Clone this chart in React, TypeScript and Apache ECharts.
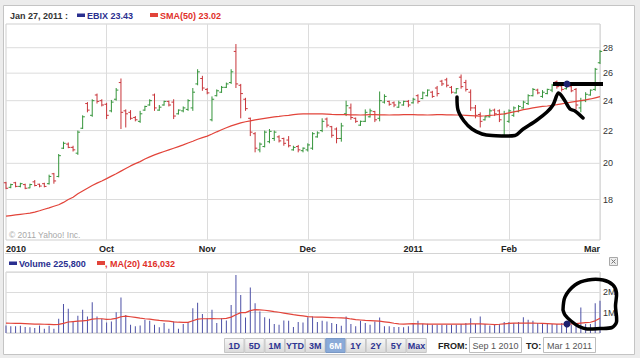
import React, { useEffect, useRef } from "react";
import * as echarts from "echarts";

// ---------- data ----------
const HOLIDAYS = ["2010-09-06", "2010-11-25", "2010-12-24", "2011-01-17", "2011-02-21"];
const FIRST_DAY = "2010-09-01";
const LAST_DAY = "2011-03-01";
const X_TICK_LABELS = ["2010", "Oct", "Nov", "Dec", "2011", "Feb", "Mar"];
const PRICE_TICKS = [18, 20, 22, 24, 26, 28];
const VOLUME_TICK_LABELS: Record<number, string> = { 1000000: "1M", 2000000: "2M" };

const OPEN = [
  18.9, 18.65, 18.9, 18.7, 18.8, 18.62, 18.95, 18.82, 18.85, 18.85, 19.4, 19.25, 20.9, 21.15, 20.95, 20.6, 22.15, 23.8, 23.0, 24.4,
  24.0, 23.75, 23.3, 24.1, 25.3, 23.3, 23.2, 22.85, 22.6, 23.35, 23.7, 24.4, 23.35, 23.7, 23.95, 23.9, 23.1, 23.3, 23.4, 23.5,
  25.2, 25.6, 24.8, 22.7, 24.35, 24.6, 24.95, 25.3, 27.7, 25.1, 24.1, 22.8, 21.8, 20.8, 21.0, 21.3, 21.5, 21.6, 21.5, 21.4,
  20.8, 21.0, 20.75, 20.8, 20.9, 21.6, 22.0, 22.75, 22.25, 22.1, 21.5, 23.1, 23.5, 22.8, 22.35, 22.6, 22.9, 23.25, 22.8, 23.9,
  23.95, 23.85, 23.55, 23.7, 23.95, 23.85, 24.35, 24.15, 24.35, 24.6, 24.9, 25.4, 25.5, 24.95, 24.55, 25.7, 25.3, 24.6, 23.5, 23.05,
  22.7, 22.9, 23.35, 23.3, 21.7, 22.6, 23.0, 23.25, 23.5, 23.8, 24.35, 24.75, 24.3, 24.5, 24.75, 25.35, 25.05, 24.85, 25.0, 24.8,
  23.5, 24.0, 24.4, 24.8, 26.8,
];
const HIGH = [
  18.95, 18.85, 18.95, 18.9, 18.85, 18.85, 19.05, 18.85, 18.9, 19.35, 19.45, 20.55, 21.3, 21.25, 21.05, 22.0, 23.0, 23.9, 24.1, 24.5,
  24.1, 23.85, 24.05, 24.9, 25.6, 23.4, 23.35, 22.95, 23.3, 23.65, 24.1, 24.5, 23.7, 24.0, 24.0, 24.1, 23.4, 23.6, 24.1, 24.9,
  26.3, 25.8, 24.9, 24.3, 24.8, 25.05, 25.3, 26.3, 28.3, 25.2, 24.2, 22.85, 21.9, 21.25, 22.0, 22.1, 22.0, 21.7, 21.55, 21.65,
  21.05, 21.1, 20.95, 21.2, 21.9, 21.95, 22.8, 22.85, 22.3, 22.2, 22.5, 24.0, 23.8, 22.85, 22.65, 23.4, 23.45, 23.3, 24.65, 24.45,
  24.0, 23.95, 24.0, 24.0, 24.05, 24.2, 24.45, 24.65, 24.8, 24.7, 25.05, 25.5, 25.65, 25.05, 24.9, 25.9, 25.5, 24.8, 23.7, 23.2,
  22.95, 23.45, 23.45, 23.4, 23.3, 23.4, 23.6, 23.7, 24.0, 24.45, 24.9, 24.85, 24.75, 24.85, 25.2, 25.45, 25.15, 25.3, 25.1, 24.9,
  24.2, 24.6, 24.8, 26.4, 27.8,
];
const LOW = [
  18.55, 18.6, 18.65, 18.65, 18.55, 18.6, 18.7, 18.65, 18.65, 18.8, 18.85, 19.2, 20.85, 20.9, 20.7, 20.5, 22.1, 23.2, 22.9, 23.8,
  23.6, 22.75, 23.2, 24.0, 22.1, 22.2, 22.7, 22.6, 22.5, 23.3, 23.65, 23.3, 23.3, 23.65, 23.6, 22.75, 23.05, 23.2, 23.3, 23.3,
  25.1, 24.7, 24.45, 22.6, 24.3, 24.55, 24.9, 25.2, 24.9, 22.8, 23.3, 21.65, 20.65, 20.65, 20.95, 21.2, 21.35, 21.25, 21.05, 20.95,
  20.75, 20.65, 20.65, 20.7, 20.8, 21.55, 21.9, 22.2, 21.55, 21.2, 21.3, 22.95, 22.7, 22.5, 22.3, 22.55, 22.85, 22.55, 22.6, 23.8,
  23.65, 23.55, 23.5, 23.65, 23.55, 23.8, 23.8, 24.1, 24.3, 24.2, 24.3, 25.05, 24.95, 24.5, 24.5, 24.85, 24.65, 23.3, 22.8, 22.2,
  22.65, 22.85, 22.95, 22.55, 21.6, 22.5, 22.9, 23.2, 23.45, 23.7, 24.3, 24.45, 24.2, 24.45, 24.6, 24.85, 24.65, 24.8, 24.6, 23.4,
  23.2, 23.9, 24.35, 24.7, 26.7,
];
const CLOSE = [
  18.6, 18.8, 18.7, 18.85, 18.6, 18.8, 18.75, 18.72, 18.7, 19.25, 19.0, 20.45, 21.2, 20.95, 20.8, 21.9, 22.9, 23.35, 24.0, 23.95,
  23.7, 23.0, 23.9, 24.75, 23.2, 23.1, 22.8, 22.7, 23.1, 23.6, 24.0, 23.5, 23.55, 23.95, 23.7, 22.95, 23.35, 23.5, 24.0, 24.6,
  26.1, 24.9, 24.55, 24.1, 24.7, 24.95, 25.2, 26.1, 25.2, 24.5, 23.45, 21.9, 20.9, 21.15, 21.9, 21.95, 21.9, 21.35, 21.2, 21.05,
  20.95, 20.8, 20.9, 21.1, 21.8, 21.85, 22.6, 22.35, 21.7, 21.5, 22.3, 23.65, 22.85, 22.6, 22.6, 23.2, 23.3, 22.7, 24.0, 24.3,
  23.75, 23.7, 23.85, 23.95, 23.7, 24.1, 23.95, 24.55, 24.75, 24.3, 24.5, 25.2, 25.1, 24.6, 24.85, 25.0, 24.8, 23.5, 23.0, 22.6,
  22.9, 23.3, 23.1, 22.7, 23.1, 23.3, 23.5, 23.6, 23.9, 24.35, 24.8, 24.55, 24.6, 24.8, 25.1, 25.0, 24.8, 25.2, 24.7, 23.7,
  24.0, 24.45, 24.75, 26.3, 27.7,
];
const SMA50 = [
  17.15, 17.18, 17.21, 17.24, 17.27, 17.3, 17.35, 17.42, 17.5, 17.57, 17.65, 17.73, 17.85, 18.0, 18.12, 18.3, 18.45, 18.6, 18.75, 18.88,
  19.0, 19.13, 19.27, 19.4, 19.55, 19.7, 19.85, 19.98, 20.1, 20.25, 20.38, 20.5, 20.6, 20.7, 20.8, 20.9, 21.0, 21.1, 21.22, 21.33,
  21.45, 21.55, 21.65, 21.78, 21.92, 22.05, 22.18, 22.3, 22.4, 22.5, 22.57, 22.63, 22.7, 22.75, 22.8, 22.85, 22.9, 22.93, 22.97, 23.0,
  23.05, 23.08, 23.1, 23.1, 23.1, 23.1, 23.1, 23.08, 23.06, 23.05, 23.04, 23.04, 23.03, 23.03, 23.02, 23.03, 23.04, 23.04, 23.03, 23.03,
  23.02, 23.03, 23.03, 23.04, 23.04, 23.04, 23.03, 23.03, 23.02, 23.03, 23.04, 23.04, 23.03, 23.03, 23.02, 23.02, 23.0, 22.98, 22.96, 22.95,
  22.97, 23.0, 23.02, 23.06, 23.1, 23.16, 23.23, 23.3, 23.38, 23.44, 23.5, 23.55, 23.6, 23.63, 23.67, 23.72, 23.78, 23.84, 23.9, 23.95,
  24.0, 24.05, 24.12, 24.2, 24.28,
];
const VOLUME = [
  370000, 330000, 330000, 360000, 290000, 280000, 240000, 370000, 210000, 360000, 210000, 700000, 1430000, 1190000, 540000, 850000, 1140000, 810000, 1510000, 810000,
  700000, 520000, 570000, 1020000, 1740000, 890000, 410000, 330000, 370000, 650000, 600000, 410000, 280000, 490000, 210000, 570000, 210000, 440000, 540000, 1220000,
  1490000, 940000, 730000, 1140000, 490000, 730000, 620000, 1380000, 2850000, 1870000, 760000, 2240000, 1460000, 1060000, 780000, 700000, 440000, 410000, 620000, 600000,
  290000, 540000, 520000, 780000, 810000, 540000, 600000, 570000, 490000, 440000, 360000, 810000, 440000, 330000, 600000, 490000, 410000, 570000, 760000, 330000,
  330000, 290000, 290000, 280000, 330000, 490000, 600000, 460000, 460000, 410000, 410000, 410000, 410000, 410000, 410000, 440000, 490000, 730000, 440000, 810000,
  440000, 370000, 410000, 440000, 540000, 540000, 490000, 540000, 780000, 650000, 600000, 490000, 440000, 440000, 440000, 440000, 490000, 570000, 410000, 440000,
  1250000, 440000, 440000, 1460000, 1580000,
];
const VOLUME_MA20 = [
  490000, 480000, 470000, 470000, 460000, 450000, 440000, 440000, 430000, 420000, 410000, 420000, 470000, 540000, 560000, 580000, 600000, 620000, 680000, 700000,
  700000, 670000, 680000, 720000, 800000, 830000, 800000, 770000, 730000, 700000, 680000, 650000, 620000, 600000, 580000, 550000, 530000, 520000, 520000, 600000,
  680000, 700000, 700000, 710000, 700000, 700000, 720000, 780000, 900000, 1000000, 1000000, 1100000, 1150000, 1140000, 1120000, 1090000, 1050000, 1020000, 980000, 940000,
  900000, 870000, 840000, 810000, 790000, 780000, 780000, 770000, 760000, 750000, 740000, 730000, 690000, 660000, 640000, 620000, 610000, 600000, 580000, 550000,
  520000, 480000, 450000, 440000, 450000, 460000, 450000, 450000, 440000, 440000, 440000, 440000, 440000, 440000, 440000, 440000, 440000, 450000, 450000, 450000,
  440000, 430000, 416032, 430000, 450000, 470000, 490000, 490000, 490000, 490000, 490000, 480000, 470000, 460000, 450000, 440000, 440000, 440000, 450000, 460000,
  490000, 510000, 530000, 600000, 730000,
];
const BUTTONS = ["1D", "5D", "1M", "YTD", "3M", "6M", "1Y", "2Y", "5Y", "Max"];
const SELECTED_BUTTON = "6M";

// ---------- helpers ----------
function tradingDays(start: string, end: string): string[] {
  const out: string[] = [];
  const d = new Date(start + "T00:00:00Z");
  const e = new Date(end + "T00:00:00Z");
  while (d.getTime() <= e.getTime()) {
    const wd = d.getUTCDay();
    const s = d.toISOString().slice(0, 10);
    if (wd !== 0 && wd !== 6 && HOLIDAYS.indexOf(s) < 0) out.push(s);
    d.setUTCDate(d.getUTCDate() + 1);
  }
  return out;
}

const FONT = '"Liberation Sans", Arial, sans-serif';
const GREEN = "#34943a";
const RED = "#c8353a";
const NAVY = "#2a2f8f";
const VOL_COLOR = "#4c50a6";
const MA_RED = "#e2443a";
const GRID_LINE = "#dcdcdc";

function txt(x: number, y: number, text: string, fill: string, font: string, align = "left", z = 50) {
  return {
    type: "text",
    x,
    y,
    z,
    silent: true,
    style: { text, fill, font, textAlign: align, align, textVerticalAlign: "middle", verticalAlign: "middle" },
  };
}

export default function App() {
  const ref = useRef<HTMLDivElement>(null);

  useEffect(() => {
    if (!ref.current) return;
    const chart = echarts.init(ref.current, null, { renderer: "svg" });

    const DATES = tradingDays(FIRST_DAY, LAST_DAY);
    const monthStarts: number[] = [];
    DATES.forEach((d, i) => {
      if (i > 0 && d.slice(5, 7) !== DATES[i - 1].slice(5, 7)) monthStarts.push(i);
    });
    const labelIdx = [0, ...monthStarts];
    const labelMap: Record<number, string> = {};
    labelIdx.forEach((idx, k) => (labelMap[idx] = X_TICK_LABELS[k]));

    const ohlc = DATES.map((_, i) => [i, OPEN[i], HIGH[i], LOW[i], CLOSE[i]]);

    const gridInterval = (index: number) => monthStarts.indexOf(index) >= 0;

    const buttonEls: any[] = [];
    BUTTONS.forEach((b, k) => {
      const x = 224 + k * 20.25;
      const sel = b === SELECTED_BUTTON;
      buttonEls.push({
        type: "rect",
        z: 40,
        silent: true,
        shape: { x: x + 0.5, y: 338.5, width: 19.5, height: 14 },
        style: sel
          ? { fill: "#8aaad8", stroke: "#7a98c4", lineWidth: 1 }
          : {
              fill: new echarts.graphic.LinearGradient(0, 0, 0, 1, [
                { offset: 0, color: "#f7f7f7" },
                { offset: 1, color: "#dadada" },
              ]),
              stroke: "#c6c6c6",
              lineWidth: 1,
            },
      });
      buttonEls.push(txt(x + 10.25, 346, b, sel ? "#ffffff" : "#2e3592", "bold 9px " + FONT, "center", 41));
    });

    const annotation = (points: number[][], smooth = 0.35) => ({
      type: "polyline",
      z: 100,
      silent: true,
      shape: { points, smooth },
      style: { stroke: "#000", lineWidth: 3.5, fill: null, lineCap: "round", lineJoin: "round" },
    });

    const graphic: any[] = [
      { type: "rect", z: -100, silent: true, shape: { x: 0, y: 0, width: 640, height: 358 }, style: { fill: "#ececec" } },
      { type: "rect", z: -99, silent: true, shape: { x: 3.5, y: 5.5, width: 631, height: 349 }, style: { fill: "#ffffff", stroke: "#c4c4c4", lineWidth: 1 } },
      { type: "line", z: 1, silent: true, shape: { x1: 5, y1: 253.5, x2: 600, y2: 253.5 }, style: { stroke: "#d4d4d4", lineWidth: 1 } },
      // price legend
      txt(10, 15.5, "Jan 27, 2011 :", "#333333", "bold 9px " + FONT),
      { type: "rect", z: 50, silent: true, shape: { x: 77, y: 13.5, width: 8, height: 3.5 }, style: { fill: NAVY } },
      txt(87, 15.5, "EBIX 23.43", NAVY, "bold 9px " + FONT),
      { type: "rect", z: 50, silent: true, shape: { x: 150, y: 13, width: 8, height: 4 }, style: { fill: MA_RED } },
      txt(160, 15.5, "SMA(50) 23.02", "#e0302a", "bold 9px " + FONT),
      txt(9, 235, "\u00a9 2011 Yahoo! Inc.", "#a8a8a8", "8.5px " + FONT),
      // volume legend
      { type: "rect", z: 50, silent: true, shape: { x: 9, y: 261.5, width: 8, height: 3.5 }, style: { fill: NAVY } },
      txt(19, 263.5, "Volume 225,800", NAVY, "bold 9px " + FONT),
      { type: "rect", z: 50, silent: true, shape: { x: 97, y: 261, width: 8, height: 4 }, style: { fill: MA_RED } },
      txt(105, 263.5, ", MA(20) 416,032", "#e0302a", "bold 9px " + FONT),
      // close icon
      { type: "rect", z: 50, silent: true, shape: { x: 609.5, y: 257.5, width: 8, height: 8 }, style: { fill: "#eeeeee", stroke: "#a8a8a8", lineWidth: 1 } },
      { type: "line", z: 51, silent: true, shape: { x1: 611.5, y1: 259.5, x2: 615.5, y2: 263.5 }, style: { stroke: "#777", lineWidth: 1 } },
      { type: "line", z: 51, silent: true, shape: { x1: 615.5, y1: 259.5, x2: 611.5, y2: 263.5 }, style: { stroke: "#777", lineWidth: 1 } },
      ...buttonEls,
      // from / to
      txt(438, 345.5, "FROM:", "#222222", "bold 9px " + FONT),
      { type: "rect", z: 40, silent: true, shape: { x: 469.5, y: 337.5, width: 52, height: 15 }, style: { fill: "#fff", stroke: "#bdbdbd", lineWidth: 1 } },
      txt(495.5, 345.5, "Sep 1 2010", "#555555", "9px " + FONT, "center"),
      txt(526, 345.5, "TO:", "#222222", "bold 9px " + FONT),
      { type: "rect", z: 40, silent: true, shape: { x: 543.5, y: 337.5, width: 52, height: 15 }, style: { fill: "#fff", stroke: "#bdbdbd", lineWidth: 1 } },
      txt(569.5, 345.5, "Mar 1 2011", "#555555", "9px " + FONT, "center"),
      // hand-drawn annotations
      annotation([
        [457, 97], [458, 110], [464, 121], [472, 129], [482, 134], [492, 135.5], [515, 135.5], [522, 130],
        [537, 120], [547, 112], [553, 105], [558.5, 93], [565, 101], [570, 109], [575, 111], [583, 118],
      ], 0.3),
      { type: "line", z: 100, silent: true, shape: { x1: 553, y1: 84, x2: 603, y2: 84 }, style: { stroke: "#000", lineWidth: 4 } },
      { type: "circle", z: 101, silent: true, shape: { cx: 567, cy: 84, r: 3.5 }, style: { fill: "#1c1f6e" } },
      annotation([
        [563, 310], [565, 297], [575, 285], [588, 280], [603, 280], [613, 285], [616.5, 293], [615.5, 306],
        [616.5, 322], [612, 327.5], [600, 328.5], [587, 329], [579, 326.5], [571, 321], [565, 315], [563, 310],
      ], 0.3),
      { type: "circle", z: 101, silent: true, shape: { cx: 567, cy: 324, r: 3.5 }, style: { fill: "#1c1f6e" } },
    ];

    const option: any = {
      animation: false,
      textStyle: { fontFamily: FONT },
      grid: [
        { left: 6, right: 40, top: 24, height: 216, show: true, borderColor: "#cfcfcf", borderWidth: 1, backgroundColor: "#fff" },
        { left: 6, right: 40, top: 272, height: 61, show: true, borderColor: "#cfcfcf", borderWidth: 1, backgroundColor: "#fff" },
      ],
      xAxis: [
        {
          type: "category",
          gridIndex: 0,
          data: DATES,
          boundaryGap: false,
          axisLine: { show: false },
          axisTick: { show: false },
          axisLabel: {
            interval: (index: number) => labelMap[index] !== undefined,
            formatter: (_v: string, index: number) => labelMap[index] || "",
            alignMinLabel: "left",
            alignMaxLabel: "right",
            margin: 4,
            fontSize: 9,
            fontWeight: "bold",
            color: "#222222",
            fontFamily: FONT,
          },
          splitLine: { show: true, interval: gridInterval, lineStyle: { color: GRID_LINE, width: 1 } },
        },
        {
          type: "category",
          gridIndex: 1,
          data: DATES,
          boundaryGap: false,
          axisLine: { show: false },
          axisTick: { show: false },
          axisLabel: { show: false },
          splitLine: { show: true, interval: gridInterval, lineStyle: { color: GRID_LINE, width: 1 } },
        },
      ],
      yAxis: [
        {
          type: "log",
          gridIndex: 0,
          logBase: 10,
          min: 16,
          max: 30,
          axisLine: { show: false },
          axisTick: { show: false },
          axisLabel: { show: false },
          splitLine: { show: false },
        },
        {
          type: "value",
          gridIndex: 1,
          min: 0,
          max: 3000000,
          interval: 1000000,
          position: "right",
          axisLine: { show: false },
          axisTick: { show: false },
          axisLabel: {
            formatter: (v: number) => VOLUME_TICK_LABELS[v] || "",
            fontSize: 9,
            color: "#333333",
            margin: 3,
            fontFamily: FONT,
          },
          splitLine: { lineStyle: { color: GRID_LINE, width: 1 } },
        },
      ],
      series: [
        {
          name: "priceGrid",
          type: "custom",
          xAxisIndex: 0,
          yAxisIndex: 0,
          z: 1,
          silent: true,
          clip: false,
          data: PRICE_TICKS.map((v) => [0, v]),
          encode: { x: 0, y: 1 },
          renderItem: (params: any, api: any) => {
            const v = api.value(1);
            const y = api.coord([0, v])[1];
            const cs = params.coordSys;
            return {
              type: "group",
              children: [
                { type: "line", shape: { x1: cs.x, y1: y, x2: cs.x + cs.width, y2: y }, style: { stroke: GRID_LINE, lineWidth: 1 } },
                {
                  type: "text",
                  style: {
                    text: String(v),
                    x: cs.x + cs.width + 3,
                    y,
                    fill: "#333333",
                    font: "9px " + FONT,
                    textAlign: "left",
                    align: "left",
                    textVerticalAlign: "middle",
                    verticalAlign: "middle",
                  },
                },
              ],
            };
          },
        },
        {
          name: "EBIX",
          type: "custom",
          xAxisIndex: 0,
          yAxisIndex: 0,
          z: 3,
          data: ohlc,
          encode: { x: 0, y: [1, 2, 3, 4] },
          renderItem: (_params: any, api: any) => {
            const i = api.value(0);
            const o = api.value(1);
            const h = api.value(2);
            const l = api.value(3);
            const c = api.value(4);
            const [x, yH] = api.coord([i, h]);
            const yL = api.coord([i, l])[1];
            const yO = api.coord([i, o])[1];
            const yC = api.coord([i, c])[1];
            const color = c >= o ? GREEN : RED;
            const st = { stroke: color, lineWidth: 1 };
            return {
              type: "group",
              children: [
                { type: "line", shape: { x1: x, y1: yH, x2: x, y2: yL }, style: st },
                { type: "line", shape: { x1: x - 2.2, y1: yO, x2: x, y2: yO }, style: st },
                { type: "line", shape: { x1: x, y1: yC, x2: x + 2.2, y2: yC }, style: st },
              ],
            };
          },
        },
        {
          name: "SMA(50)",
          type: "line",
          xAxisIndex: 0,
          yAxisIndex: 0,
          z: 4,
          data: SMA50,
          symbol: "none",
          lineStyle: { color: MA_RED, width: 1.2 },
          silent: true,
        },
        {
          name: "Volume",
          type: "bar",
          xAxisIndex: 1,
          yAxisIndex: 1,
          z: 3,
          data: VOLUME,
          barWidth: 1,
          itemStyle: { color: VOL_COLOR },
          silent: true,
        },
        {
          name: "MA(20)",
          type: "line",
          xAxisIndex: 1,
          yAxisIndex: 1,
          z: 4,
          data: VOLUME_MA20,
          symbol: "none",
          lineStyle: { color: MA_RED, width: 1.2 },
          silent: true,
        },
      ],
      graphic,
    };

    chart.setOption(option);
    return () => chart.dispose();
  }, []);

  return (
    <div
      ref={ref}
      style={{ position: "absolute", left: 0, top: 0, width: 640, height: 358, background: "#fff" }}
    />
  );
}
